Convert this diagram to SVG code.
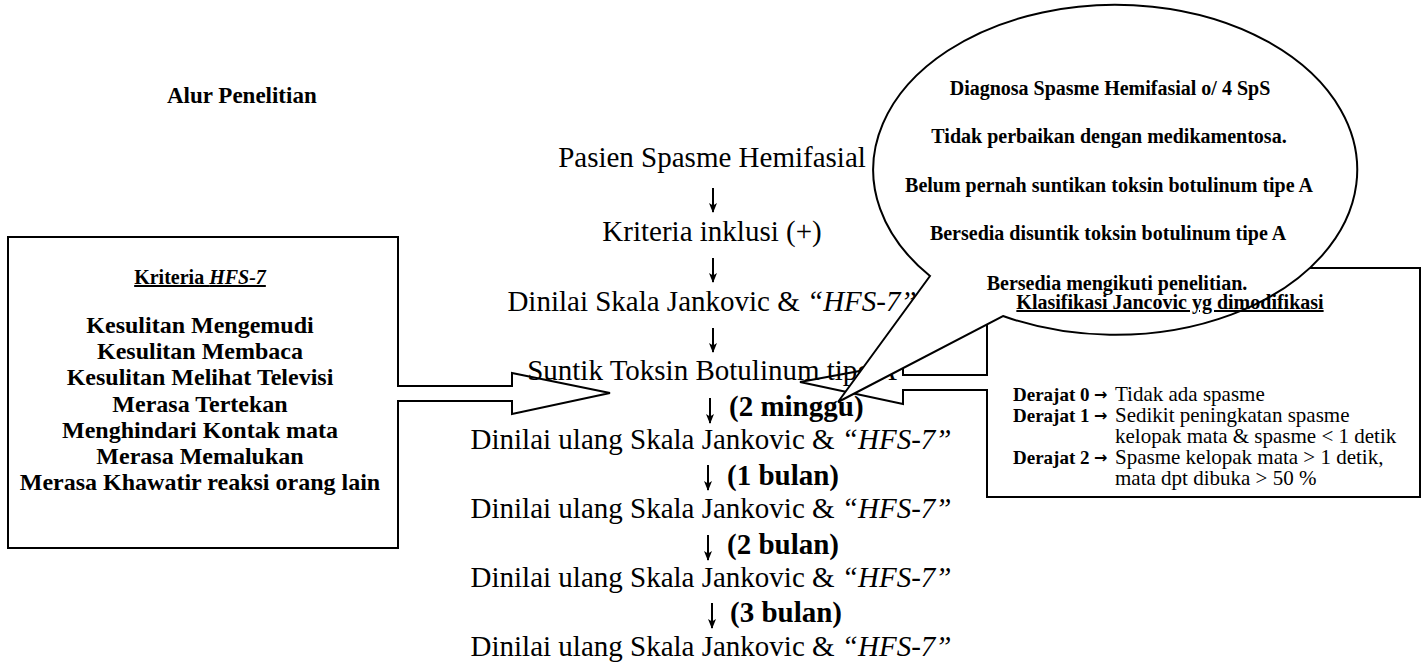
<svg xmlns="http://www.w3.org/2000/svg" width="1427" height="665" viewBox="0 0 1427 665">
<style>
text { font-family: "Liberation Serif", "Times New Roman", serif; fill: #000; }
.b { font-weight: bold; }
.i { font-style: italic; }
.main { font-size: 29px; }
.mid { text-anchor: middle; }
.shape { fill: none; stroke: #000; stroke-width: 2; stroke-linejoin: miter; }
.call { fill: #fff; stroke: #000; stroke-width: 2; }
.down { stroke: #000; stroke-width: 2; fill: none; marker-end: url(#head); }
.lb { font-size: 24px; font-weight: bold; text-anchor: middle; }
.el { font-size: 20px; font-weight: bold; text-anchor: middle; }
.kb { font-size: 19px; font-weight: bold; }
.ka { font-family: "DejaVu Sans", sans-serif; font-size: 16px; font-weight: bold; }
.kr { font-size: 21px; }
.u { text-decoration: underline; }
</style>
<defs>
<marker id="head" viewBox="0 0 10 10" refX="9" refY="5" markerUnits="userSpaceOnUse" markerWidth="10" markerHeight="10" orient="auto">
<path d="M0,1 L10,5 L0,9 L2.5,5 Z" fill="#000"/>
</marker>
</defs>
<rect width="1427" height="665" fill="#fff"/>
<g id="title">
<text class="b" x="167" y="103" font-size="23">Alur Penelitian</text>
</g>
<g id="flow">
<text class="main mid" x="712" y="167">Pasien Spasme Hemifasial</text>
<text class="main mid" x="712" y="241">Kriteria inklusi (+)</text>
<text class="main mid" x="712" y="311">Dinilai Skala Jankovic &amp; <tspan class="i">“HFS-7”</tspan></text>
<text class="main mid" x="712" y="380">Suntik Toksin Botulinum tipe A</text>
<text class="main b" x="729" y="416">(2 minggu)</text>
<text class="main mid" x="711" y="449">Dinilai ulang Skala Jankovic &amp; <tspan class="i">“HFS-7”</tspan></text>
<text class="main b" x="727" y="485">(1 bulan)</text>
<text class="main mid" x="711" y="518">Dinilai ulang Skala Jankovic &amp; <tspan class="i">“HFS-7”</tspan></text>
<text class="main b" x="727" y="554">(2 bulan)</text>
<text class="main mid" x="711" y="587">Dinilai ulang Skala Jankovic &amp; <tspan class="i">“HFS-7”</tspan></text>
<text class="main b" x="730" y="622">(3 bulan)</text>
<text class="main mid" x="711" y="656">Dinilai ulang Skala Jankovic &amp; <tspan class="i">“HFS-7”</tspan></text>
</g>
<g id="connectors">
<line class="down" x1="713" y1="188" x2="713" y2="212"/>
<line class="down" x1="713" y1="258" x2="713" y2="282"/>
<line class="down" x1="713" y1="328" x2="713" y2="352"/>
<line class="down" x1="710" y1="398" x2="710" y2="423"/>
<line class="down" x1="708" y1="465" x2="708" y2="490"/>
<line class="down" x1="708" y1="535" x2="708" y2="560"/>
<line class="down" x1="712" y1="603" x2="712" y2="628"/>
</g>
<g id="kriteria-hfs7">
<path class="shape" d="M8,237 H398 V386 H512 V373 L610,393 L512,414 V401 H398 V548 H8 Z"/>
<text class="b u mid" x="200" y="284" font-size="20">Kriteria <tspan class="i">HFS-7</tspan></text>
<text class="lb" x="200" y="333">Kesulitan Mengemudi</text>
<text class="lb" x="200" y="359">Kesulitan Membaca</text>
<text class="lb" x="200" y="385">Kesulitan Melihat Televisi</text>
<text class="lb" x="200" y="412">Merasa Tertekan</text>
<text class="lb" x="200" y="438">Menghindari Kontak mata</text>
<text class="lb" x="200" y="464">Merasa Memalukan</text>
<text class="lb" x="200" y="490">Merasa Khawatir reaksi orang lain</text>
</g>
<g id="klasifikasi-box">
<path class="shape" d="M987,268 H1420 V497 H987 V390 H903 V404 L800,382 L903,363 V375 H987 Z"/>
</g>
<g id="inklusi-callout">
<path class="call" d="M930,276 L838,402 L1003,316 A242,165 0 1 0 930,276 Z"/>
<text class="el" x="1110" y="95">Diagnosa Spasme Hemifasial o/ 4 SpS</text>
<text class="el" x="1109" y="143">Tidak perbaikan dengan medikamentosa.</text>
<text class="el" x="1109" y="192">Belum pernah suntikan toksin botulinum tipe A</text>
<text class="el" x="1108" y="240">Bersedia disuntik toksin botulinum tipe A</text>
<text class="el" x="1117" y="290">Bersedia mengikuti penelitian.</text>
</g>
<g id="klasifikasi-text">
<text class="el u" x="1170" y="309">Klasifikasi Jancovic yg dimodifikasi</text>
<text class="kb" x="1013" y="401">Derajat 0</text>
<text class="ka" x="1094" y="400">→</text>
<text class="kr" x="1115" y="401">Tidak ada spasme</text>
<text class="kb" x="1013" y="422">Derajat 1</text>
<text class="ka" x="1094" y="421">→</text>
<text class="kr" x="1115" y="422">Sedikit peningkatan spasme</text>
<text class="kr" x="1115" y="443">kelopak mata &amp; spasme &lt; 1 detik</text>
<text class="kb" x="1013" y="464">Derajat 2</text>
<text class="ka" x="1094" y="463">→</text>
<text class="kr" x="1115" y="464">Spasme kelopak mata &gt; 1 detik,</text>
<text class="kr" x="1115" y="485">mata dpt dibuka &gt; 50 %</text>
</g>
</svg>
